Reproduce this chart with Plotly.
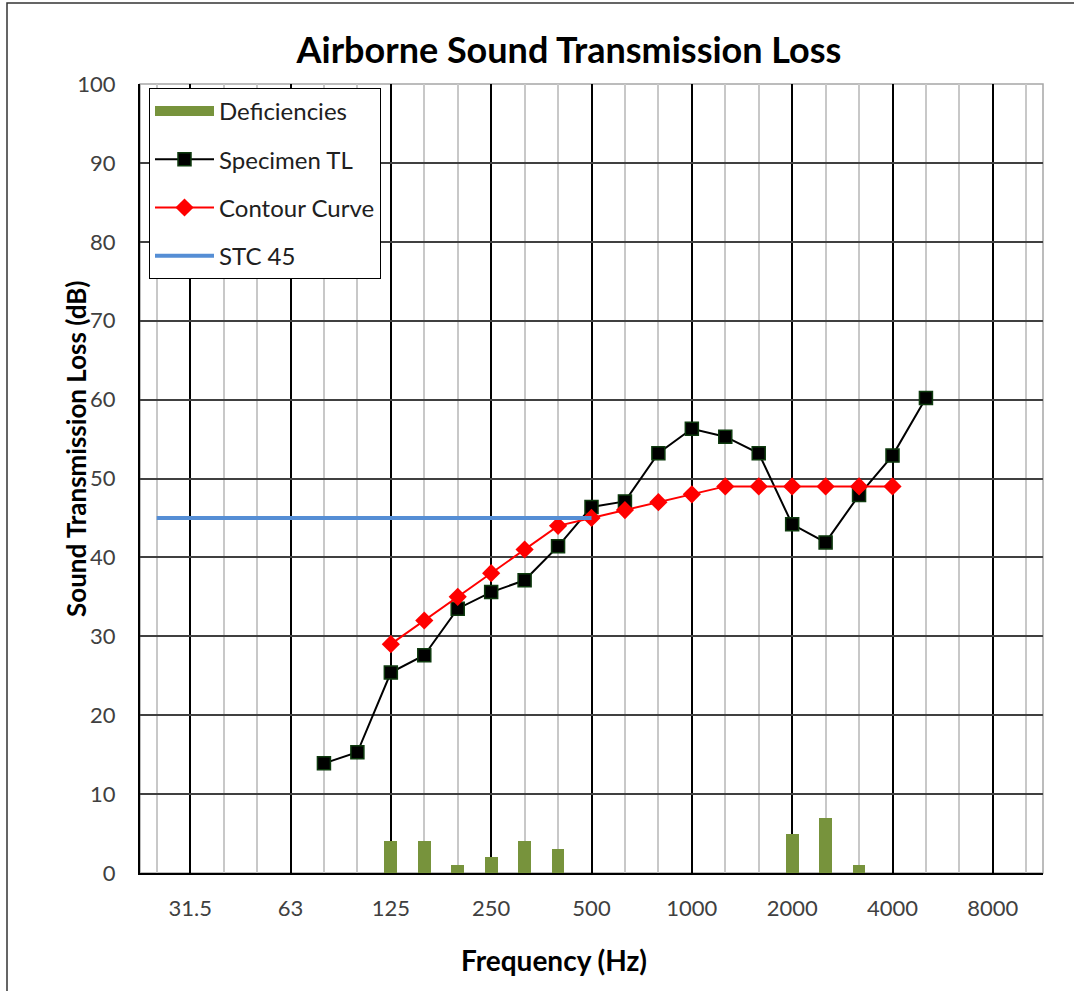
import plotly.graph_objects as go

# 1/3-octave band centre frequencies (category axis)
freqs = ["25", "31.5", "40", "50", "63", "80", "100", "125", "160", "200", "250",
         "315", "400", "500", "630", "800", "1000", "1250", "1600", "2000", "2500",
         "3150", "4000", "5000", "6300", "8000", "10000"]
octave_labels = ["31.5", "63", "125", "250", "500", "1000", "2000", "4000", "8000"]

# Specimen TL: 80 Hz .. 5000 Hz
tl_freqs = ["80", "100", "125", "160", "200", "250", "315", "400", "500", "630",
            "800", "1000", "1250", "1600", "2000", "2500", "3150", "4000", "5000"]
tl_values = [13.9, 15.3, 25.4, 27.6, 33.5, 35.6, 37.1, 41.4, 46.4, 47.1,
             53.2, 56.3, 55.3, 53.2, 44.2, 41.9, 47.9, 52.9, 60.2]

# Contour curve (STC 45): 125 Hz .. 4000 Hz
contour_freqs = ["125", "160", "200", "250", "315", "400", "500", "630", "800",
                 "1000", "1250", "1600", "2000", "2500", "3150", "4000"]
contour_values = [29, 32, 35, 38, 41, 44, 45, 46, 47, 48, 49, 49, 49, 49, 49, 49]

# Deficiencies
def_freqs = ["125", "160", "200", "250", "315", "400", "2000", "2500", "3150"]
def_values = [4, 4, 1, 2, 4, 3, 5, 7, 1]

# STC 45 reference line
stc_freqs = ["25", "500"]
stc_values = [45, 45]

idx = {f: i for i, f in enumerate(freqs)}

def pos(lst):
    return [idx[f] for f in lst]

FONT = "Lato"
BAR_COLOR = "#77933C"
W, H = 1074, 991
L, R, T, B = 140, 31, 84, 118
pw, ph = W - L - R, H - T - B

fig = go.Figure()
fig.add_trace(go.Bar(
    x=pos(def_freqs), y=def_values, name="Deficiencies", width=0.38,
    marker=dict(color=BAR_COLOR, line=dict(width=0)),
    legendgroup="a", showlegend=False))
# legend entry for the bars (wide swatch as in the original)
fig.add_trace(go.Scatter(
    x=[None], y=[None], name="Deficiencies", mode="lines",
    line=dict(color=BAR_COLOR, width=14), legendgroup="a", showlegend=True))
fig.add_trace(go.Scatter(
    x=pos(tl_freqs), y=tl_values, name="Specimen TL", mode="lines+markers",
    line=dict(color="black", width=2),
    marker=dict(symbol="square", size=13, color="black",
                line=dict(color="#0E3A0E", width=1.5)), legendgroup="b"))
fig.add_trace(go.Scatter(
    x=pos(contour_freqs), y=contour_values, name="Contour Curve", mode="lines+markers",
    line=dict(color="#FF0000", width=2),
    marker=dict(symbol="diamond", size=14, color="#FF0000"), legendgroup="c"))
fig.add_trace(go.Scatter(
    x=pos(stc_freqs), y=stc_values, name="STC 45", mode="lines",
    line=dict(color="#558ED5", width=4), legendgroup="d"))

fig.update_layout(
    width=W, height=H,
    margin=dict(l=L, r=R, t=T, b=B),
    paper_bgcolor="white", plot_bgcolor="white",
    font=dict(family=FONT, size=22, color="#404040"),
    title=dict(text="<b>Airborne Sound Transmission Loss</b>",
               font=dict(family=FONT, size=36, color="black"),
               xref="paper", x=(569 - L) / pw, xanchor="center",
               yref="container", y=1 - 50 / H, yanchor="middle"),
    showlegend=True,
    legend=dict(x=(149 - L) / pw, y=(H - B - 88) / ph, xanchor="left", yanchor="top",
                bgcolor="white", bordercolor="black", borderwidth=1,
                font=dict(family=FONT, size=24, color="#202020"),
                tracegroupgap=14, itemwidth=59, traceorder="grouped"),
    bargap=0,
)

fig.update_xaxes(
    range=[-0.5, len(freqs) - 0.5],
    tickmode="array", tickvals=pos(octave_labels), ticktext=octave_labels,
    showgrid=True, gridcolor="black", gridwidth=2,
    minor=dict(tickmode="linear", tick0=0, dtick=1, showgrid=True,
               gridcolor="#C8C8C8", gridwidth=1.5),
    showline=True, linecolor="black", linewidth=2,
    ticks="", ticklabelstandoff=15, zeroline=False,
    tickfont=dict(family=FONT, size=22, color="#404040"),
)
fig.update_yaxes(
    range=[0, 100], tickmode="linear", tick0=0, dtick=10,
    showgrid=True, gridcolor="#404040", gridwidth=1.5,
    showline=True, linecolor="black", linewidth=2,
    ticks="", ticklabelstandoff=18, zeroline=False,
    tickfont=dict(family=FONT, size=22, color="#404040"),
)

# plot-area border (gray top/right) and outer chart border
fig.add_shape(type="rect", xref="paper", yref="paper", x0=0, x1=1, y0=0, y1=1,
              line=dict(color="#A6A6A6", width=1.5), layer="below")
fig.add_shape(type="rect", xref="paper", yref="paper",
              x0=(7 - L) / pw, x1=(1090 - L) / pw,
              y0=(H - B - 1010) / ph, y1=(H - B - 3) / ph,
              line=dict(color="#333333", width=1.5), layer="below")

fig.add_annotation(text="<b>Sound Transmission Loss (dB)</b>", textangle=-90,
                   xref="paper", yref="paper", x=(76 - L) / pw, y=(H - B - 449) / ph,
                   xanchor="center", yanchor="middle", showarrow=False,
                   font=dict(family=FONT, size=26, color="black"))
fig.add_annotation(text="<b>Frequency (Hz)</b>",
                   xref="paper", yref="paper", x=(554 - L) / pw, y=(H - B - 960) / ph,
                   xanchor="center", yanchor="middle", showarrow=False,
                   font=dict(family=FONT, size=28, color="black"))

fig.write_html("out.html", config={"displayModeBar": False},
               post_script="document.body.style.margin='0';document.body.style.overflow='hidden';")
